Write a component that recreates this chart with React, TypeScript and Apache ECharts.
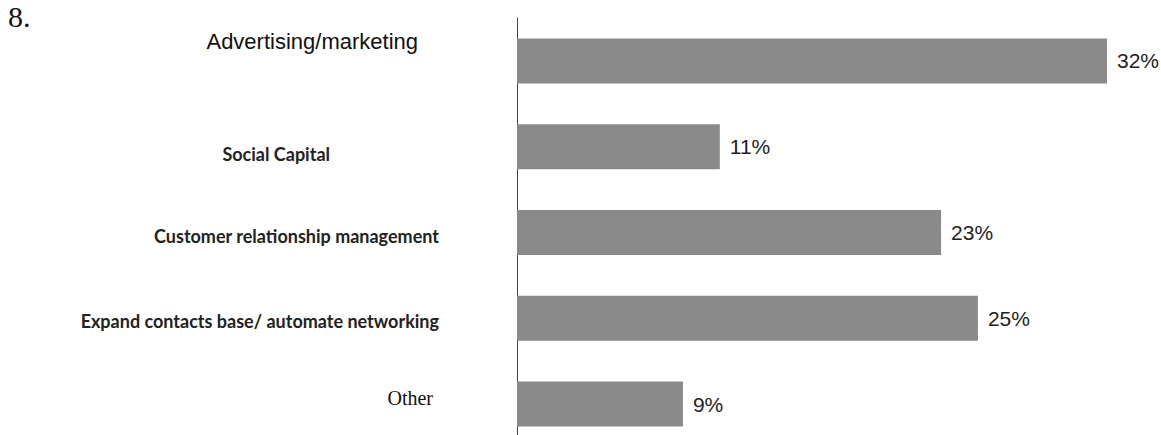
import React, { useEffect, useRef } from "react";
import * as echarts from "echarts";

const categories = [
  "Advertising/marketing",
  "Social Capital",
  "Customer relationship management",
  "Expand contacts base/ automate networking",
  "Other",
];
const values = [32, 11, 23, 25, 9];
const richKeys = ["a", "b", "c", "d", "e"];

export default function App() {
  const ref = useRef<HTMLDivElement>(null);
  useEffect(() => {
    if (!ref.current) return;
    const chart = echarts.init(ref.current, null, { renderer: "svg" });
    const calibri = "Lato, 'Open Sans', sans-serif";
    chart.setOption({
      animation: false,
      backgroundColor: "#ffffff",
      graphic: [
        {
          type: "text",
          left: 8,
          top: 1,
          style: { text: "8.", font: "30px 'Liberation Serif', 'Times New Roman', serif", fill: "#111" },
        },
      ],
      grid: { left: 517, width: 590, top: 18, height: 429, containLabel: false },
      xAxis: {
        type: "value",
        min: 0,
        max: 32,
        show: false,
      },
      yAxis: {
        type: "category",
        inverse: true,
        data: categories,
        axisLine: { show: true, lineStyle: { color: "#444", width: 1 } },
        axisTick: { show: false },
        axisLabel: {
          margin: 0,
          formatter: (v: string) => {
            const i = categories.indexOf(v);
            return `{${richKeys[i]}|${v}}`;
          },
          rich: {
            a: { fontFamily: "'Liberation Sans', Arial, sans-serif", fontSize: 22, color: "#111", padding: [0, 99, 38, 0] },
            b: { fontFamily: calibri, fontSize: 18, fontWeight: "bold", color: "#222", padding: [14, 187, 0, 0] },
            c: { fontFamily: calibri, fontSize: 18, fontWeight: "bold", color: "#222", padding: [6, 78, 0, 0] },
            d: { fontFamily: calibri, fontSize: 18, fontWeight: "bold", color: "#222", padding: [6, 78, 0, 0] },
            e: { fontFamily: "'Liberation Serif', 'Times New Roman', serif", fontSize: 20, color: "#111", padding: [0, 84, 12, 0] },
          },
        },
      },
      series: [
        {
          type: "bar",
          data: values,
          barWidth: 45,
          itemStyle: { color: "#8a8a8a" },
          label: {
            show: true,
            position: "right",
            distance: 10,
            formatter: "{c}%",
            fontFamily: "'Liberation Sans', sans-serif",
            fontSize: 21,
            color: "#222",
          },
        },
      ],
    });
    return () => chart.dispose();
  }, []);
  return (
    <div
      ref={ref}
      style={{ position: "fixed", left: 0, top: 0, width: 1161, height: 460, background: "#fff" }}
    />
  );
}
